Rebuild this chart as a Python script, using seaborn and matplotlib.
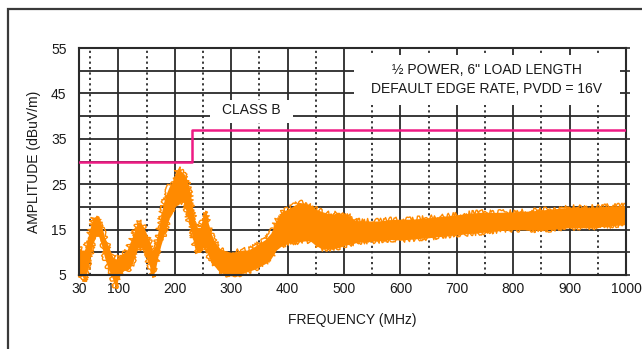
import numpy as np
import pandas as pd
import matplotlib
matplotlib.use("Agg")
import matplotlib.pyplot as plt
import seaborn as sns
from matplotlib.patches import Rectangle

# ======= values =======
freq_mhz = [30, 35, 40, 45, 50, 55, 60, 65, 70, 75, 80, 85, 90, 95, 100,
            105, 110, 115, 120, 125, 130, 135, 140, 145, 150, 155, 160, 165,
            170, 175, 180, 185, 190, 195, 200, 205, 210, 215, 220, 225, 230,
            235, 240, 245, 250, 255, 260, 265, 270, 280, 290, 300, 310, 320,
            330, 340, 350, 360, 370, 380, 390, 400, 410, 420, 430, 440, 450,
            460, 470, 480, 490, 500, 510, 520, 540, 560, 580, 600, 620, 650,
            680, 710, 740, 770, 800, 830, 865, 900, 935, 970, 1000]
amp_low = [4.5, 5.0, 3.5, 6.0, 9.0, 12.0, 13.5, 13.5, 11.5, 9.0, 7.0, 5.5, 4.0, 2.0, 4.5,
           5.5, 6.0, 6.0, 6.5, 7.5, 9.5, 11.0, 11.0, 10.5, 8.5, 7.0, 4.5, 6.0,
           9.0, 11.5, 13.5, 15.5, 17.5, 18.5, 20.0, 20.5, 21.0, 21.0, 19.0, 16.5, 14.0,
           11.0, 10.0, 10.0, 11.0, 11.0, 9.0, 7.5, 7.0, 5.5, 5.2, 4.8, 5.0, 5.4,
           5.8, 6.2, 6.8, 7.5, 8.5, 10.5, 11.5, 12.0, 12.2, 12.3, 12.5, 12.5, 11.5,
           10.8, 10.7, 10.8, 11.0, 11.5, 11.8, 12.1, 12.4, 12.5, 12.8, 12.7, 12.9, 13.2,
           13.6, 14.0, 14.3, 14.7, 15.0, 14.9, 15.0, 15.4, 15.4, 15.8, 16.1]
amp_high = [11.0, 10.5, 10.5, 13.0, 15.5, 17.5, 18.0, 18.0, 16.0, 13.5, 12.0, 10.5, 9.0, 8.5, 9.0,
            9.5, 10.0, 10.5, 12.0, 13.5, 15.5, 16.8, 16.5, 15.5, 14.0, 12.5, 10.5, 11.5,
            14.5, 18.0, 21.0, 23.0, 24.5, 25.5, 27.0, 28.5, 28.0, 27.5, 26.5, 24.5, 21.0,
            17.0, 15.5, 15.5, 18.0, 19.0, 16.0, 14.0, 12.5, 10.8, 10.3, 10.0, 10.2, 10.5,
            10.5, 11.2, 12.0, 12.8, 14.2, 17.0, 19.0, 19.5, 20.2, 21.0, 20.8, 20.5, 19.5,
            19.0, 18.6, 18.4, 18.8, 18.3, 18.0, 17.0, 16.9, 16.9, 17.2, 17.3, 17.3, 17.6,
            18.0, 18.4, 18.8, 18.8, 18.9, 19.1, 19.5, 19.9, 19.9, 20.2, 20.3]

limit_freq = [30, 230, 1000]
limit_db = [30, 37, 37]

x_ticks = [30, 100, 200, 300, 400, 500, 600, 700, 800, 900, 1000]
x_dotted = [50, 150, 250, 350, 450, 550, 650, 750, 850, 950]
y_ticks = [5, 15, 25, 35, 45, 55]
y_minor = [10, 20, 30, 40, 50]

note_text = "½ POWER, 6\" LOAD LENGTH\nDEFAULT EDGE RATE, PVDD = 16V"
limit_text = "CLASS B"

ORANGE = "#ff8a00"
PINK = "#ee1a84"
GRID = "#2a2a2a"

# ======= figure =======
sns.set_style("white")
plt.rcParams["font.family"] = ["Liberation Sans", "DejaVu Sans"]

fig = plt.figure(figsize=(6.42, 3.49), dpi=100)
ax = fig.add_axes([79 / 642, 1 - 275 / 349, 547 / 642, 227 / 349])

# outer frame (runs off the right and bottom of the picture)
fig.patches.append(Rectangle((8 / 642, -0.2), 1.2, 0.2 + (1 - 9 / 349),
                             transform=fig.transFigure, fill=False,
                             edgecolor="#3a3a3a", linewidth=1.6))

df = pd.DataFrame({"freq": freq_mhz, "low": amp_low, "high": amp_high})

# measured trace: the band between the lower and upper envelope,
# edges drawn with a rough (sketch) style to look like the noisy scan
ax.fill_between(df["freq"], df["low"], df["high"], color=ORANGE,
                linewidth=0, zorder=2, clip_on=False)
for col in ["low", "high"]:
    sns.lineplot(data=df, x="freq", y=col, ax=ax, color=ORANGE, lw=1.0,
                 zorder=2, clip_on=False)
for ln in ax.lines:
    ln.set_sketch_params(scale=2.5, length=0.6, randomness=2.0)

sns.lineplot(x=limit_freq, y=limit_db, ax=ax, color=PINK, lw=1.8,
             drawstyle="steps-post", zorder=3)

ax.set_xlim(30, 1000)
ax.set_ylim(5, 55)

ax.set_xticks(x_ticks)
ax.set_xticks(x_dotted, minor=True)
ax.set_yticks(y_ticks)
ax.set_yticks(y_minor, minor=True)
ax.set_xticklabels([str(t) for t in x_ticks])
ax.set_yticklabels([str(t) for t in y_ticks])

ax.set_axisbelow(True)
ax.grid(True, which="both", axis="y", color=GRID, lw=1.3)
ax.grid(True, which="major", axis="x", color=GRID, lw=1.3)
ax.grid(True, which="minor", axis="x", color=GRID, lw=1.3, ls=(0, (1.2, 1.8)))

ax.tick_params(axis="x", which="both", length=0, pad=5, labelsize=10, colors="#1a1a1a")
ax.tick_params(axis="y", which="both", left=False, right=True, direction="out",
               length=3, width=1.2, color=GRID, pad=6, labelsize=10, labelcolor="#1a1a1a")
for sp in ax.spines.values():
    sp.set_visible(True)
    sp.set_color(GRID)
    sp.set_linewidth(1.5)

# white boxes that hide the grid behind the notes
ax.add_patch(Rectangle((518, 42.4), 471, 11.1, facecolor="white",
                       edgecolor="none", zorder=1))
ax.add_patch(Rectangle((262, 38.5), 147, 5.0, facecolor="white",
                       edgecolor="none", zorder=1))
ax.text(753, 48.0, note_text, ha="center", va="center", fontsize=10,
        linespacing=1.45, color="#1a1a1a", zorder=4)
ax.text(335, 41.3, limit_text, ha="center", va="center", fontsize=10,
        color="#1a1a1a", zorder=4)

ax.set_xlabel("FREQUENCY (MHz)", fontsize=10, labelpad=12, color="#1a1a1a")
ax.set_ylabel("AMPLITUDE (dBuV/m)", fontsize=10, labelpad=7, color="#1a1a1a")

fig.savefig("out.png", dpi=100)
